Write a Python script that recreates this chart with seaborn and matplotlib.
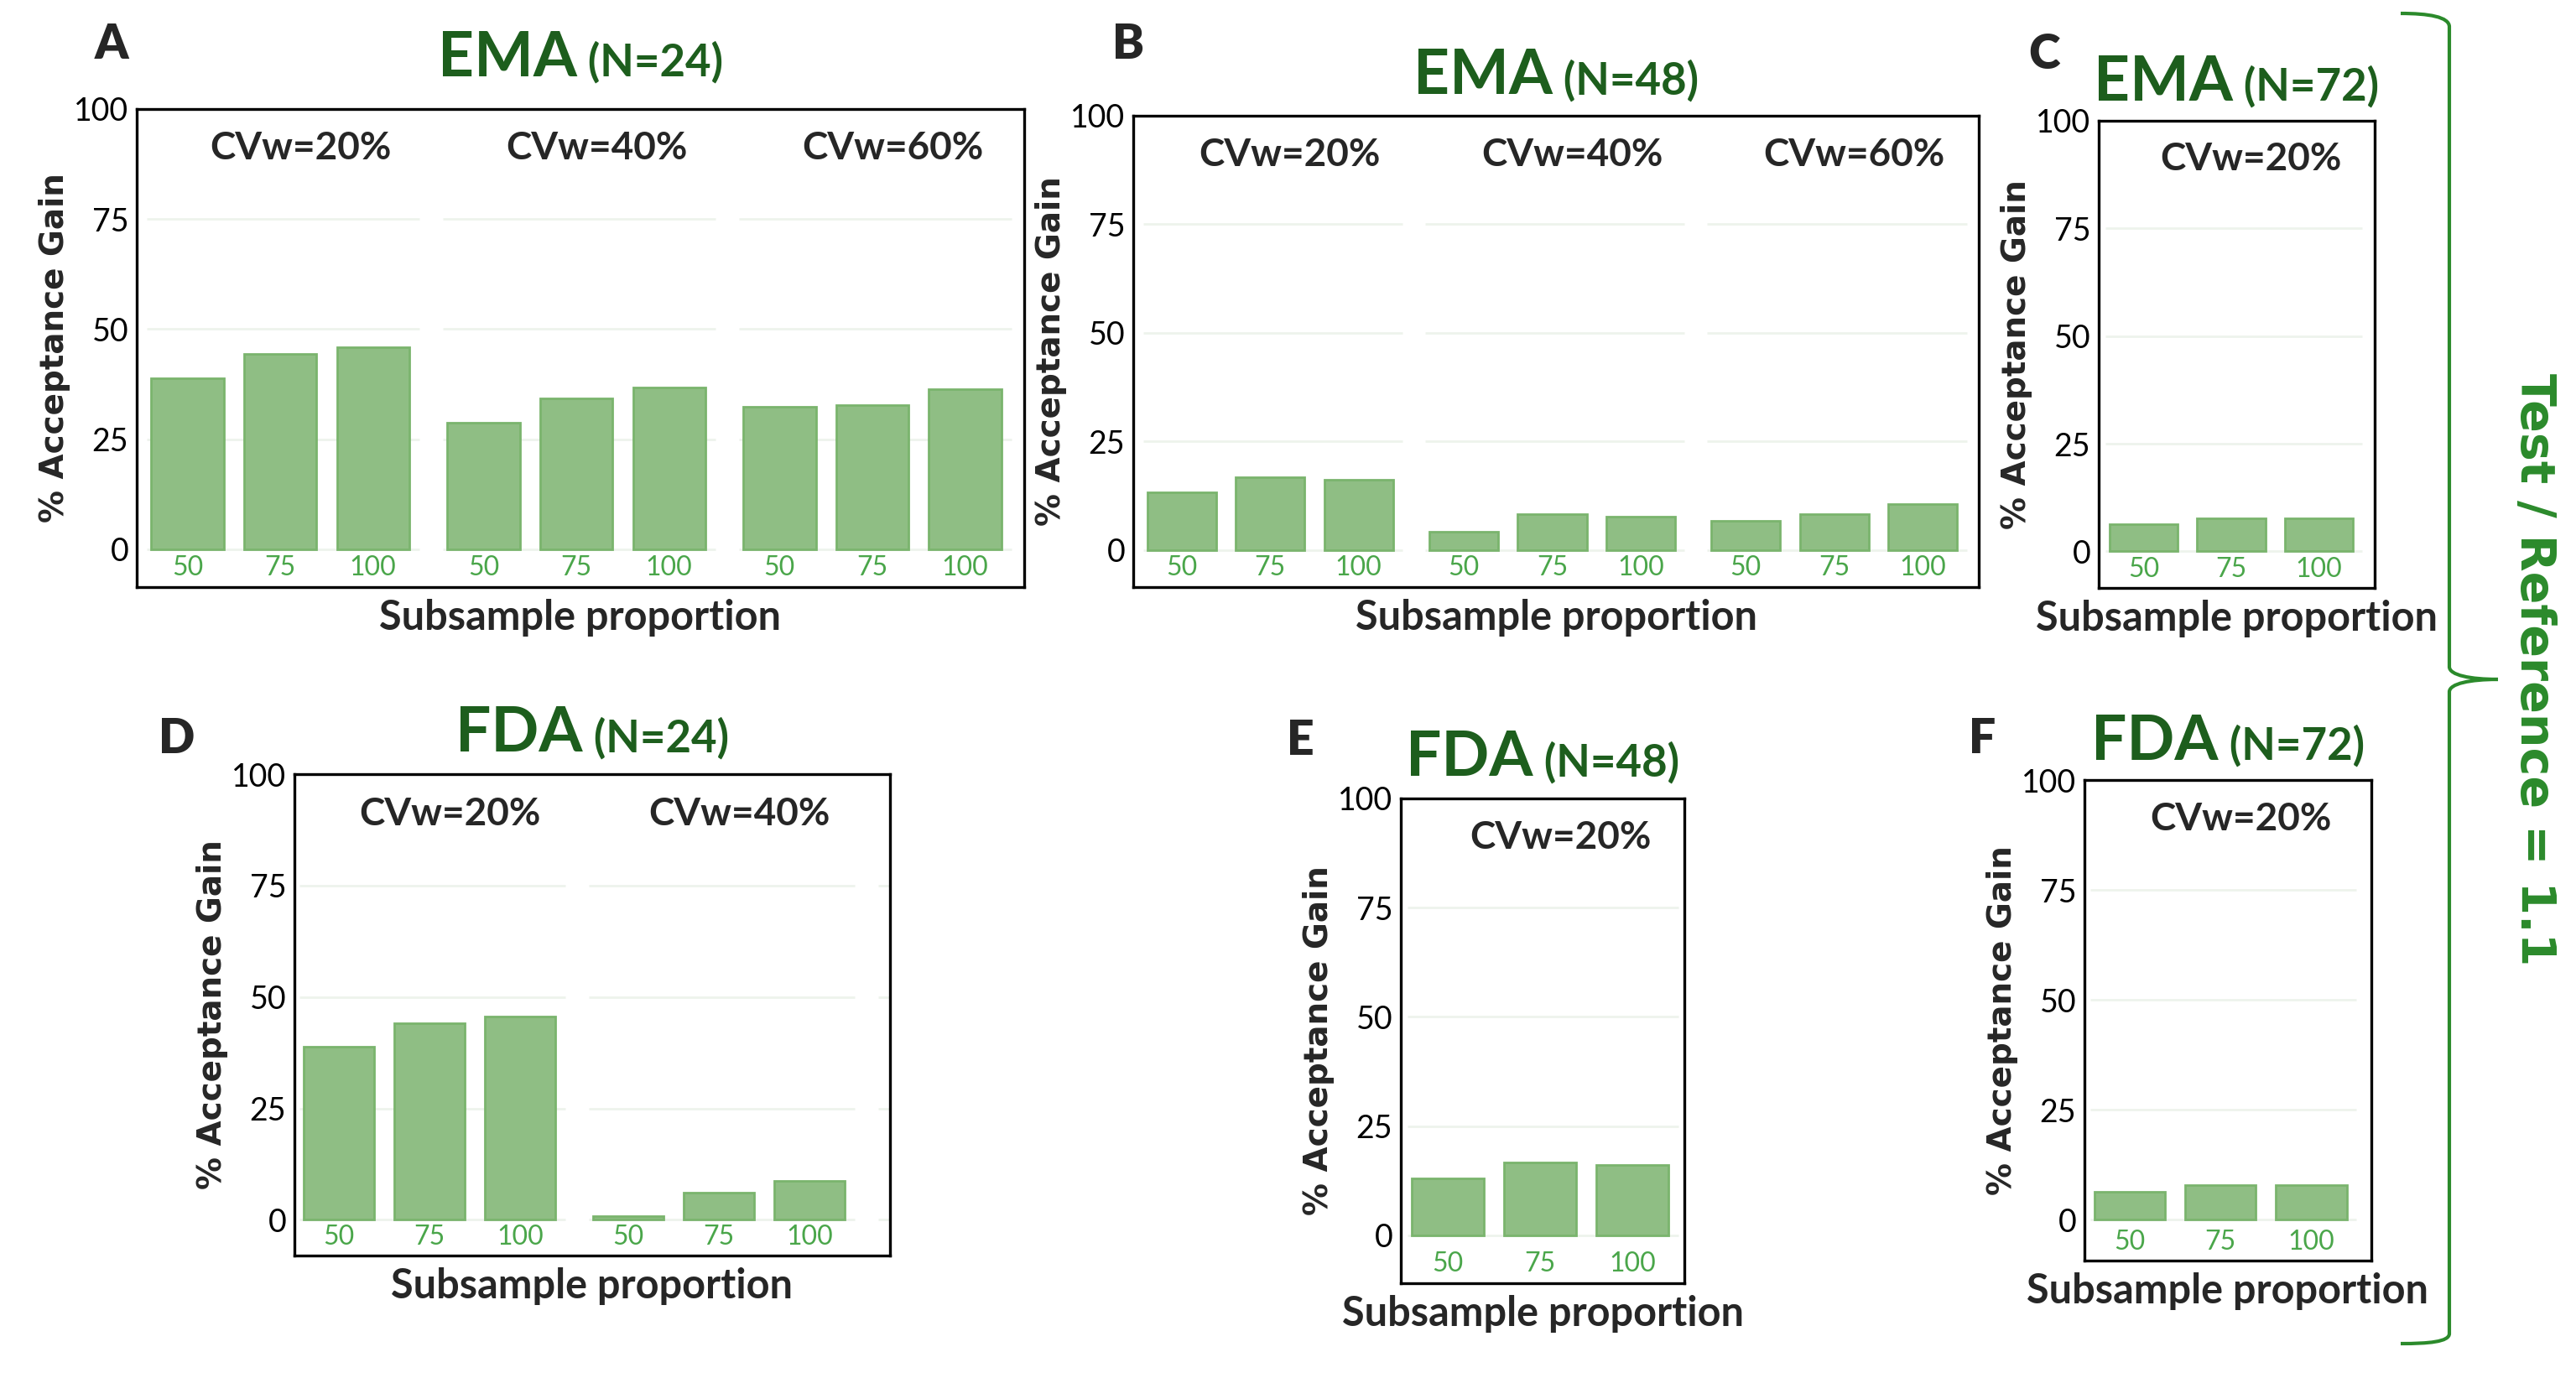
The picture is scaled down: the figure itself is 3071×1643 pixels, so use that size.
# Six bar panels: % acceptance gain by subsample proportion (EMA / FDA, N=24/48/72)

import seaborn as sns
import matplotlib.pyplot as plt
import pandas as pd
from matplotlib.offsetbox import TextArea, HPacker, AnnotationBbox
from matplotlib.path import Path
from matplotlib.patches import PathPatch

# Values
proportions = ['50', '75', '100']
cvw_levels = ['CVw=20%', 'CVw=40%', 'CVw=60%']

ema24_cv20 = [38.8, 44.3, 45.8]
ema24_cv40 = [28.7, 34.3, 36.7]
ema24_cv60 = [32.3, 32.7, 36.3]
ema48_cv20 = [13.3, 16.8, 16.3]
ema48_cv40 = [4.3, 8.2, 7.7]
ema48_cv60 = [6.8, 8.2, 10.7]
ema72_cv20 = [6.3, 7.7, 7.7]
fda24_cv20 = [38.8, 44.2, 45.7]
fda24_cv40 = [0.8, 6.2, 8.7]
fda48_cv20 = [13.1, 16.7, 16.1]
fda72_cv20 = [6.3, 7.8, 7.8]

W, H = 3071, 1643
BAR = '#8fbe84'
EDGE = '#7ab46d'
TICK_GREEN = '#4aa64a'
TITLE_GREEN = '#1d5e1d'
BRACE_GREEN = '#2b8a2b'
GRID = '#eef3ec'

sns.set_style('white')
plt.rcParams['font.family'] = ['Lato', 'DejaVu Sans']


def make_df(groups):
    rows = []
    for cvw, vals in groups:
        for p, v in zip(proportions, vals):
            rows.append({'cvw': cvw, 'prop': p, 'gain': v})
    return pd.DataFrame(rows)


# letter, agency, N, groups, box in px (left, top, right, bottom), xlim, ymin, title gap (pt), letter pos px
panels = [
    ('A', 'EMA', 24, [(cvw_levels[0], ema24_cv20), (cvw_levels[1], ema24_cv40), (cvw_levels[2], ema24_cv60)],
     (163, 130, 1221, 700), (-0.485, 2.513), -8.6, 19, (133, 53)),
    ('B', 'EMA', 48, [(cvw_levels[0], ema48_cv20), (cvw_levels[1], ema48_cv40), (cvw_levels[2], ema48_cv60)],
     (1351, 138, 2359, 700), (-0.486, 2.513), -8.5, 9, (1345, 53)),
    ('C', 'EMA', 72, [(cvw_levels[0], ema72_cv20)],
     (2502, 144, 2831, 701), (-0.475, 0.514), -8.5, 8, (2437, 65)),
    ('D', 'FDA', 24, [(cvw_levels[0], fda24_cv20), (cvw_levels[1], fda24_cv40)],
     (351, 923, 1061, 1497), (-0.466, 1.591), -8.0, 10, (211, 881)),
    ('E', 'FDA', 48, [(cvw_levels[0], fda48_cv20)],
     (1670, 952, 2008, 1530), (-0.472, 0.489), -11.0, 10, (1550, 883)),
    ('F', 'FDA', 72, [(cvw_levels[0], fda72_cv20)],
     (2485, 930, 2827, 1503), (-0.470, 0.521), -9.3, 8, (2363, 881)),
]

fig = plt.figure(figsize=(W / 100, H / 100), dpi=100)

for letter, agency, n, groups, box, xlim, ymin, tgap, lpos in panels:
    l, t, r, b = box
    ax = fig.add_axes([l / W, 1 - b / H, (r - l) / W, (b - t) / H])
    df = make_df(groups)
    sns.barplot(data=df, x='cvw', y='gain', hue='prop', hue_order=proportions,
                palette={p: BAR for p in proportions}, width=0.94, gap=0.22,
                saturation=1, edgecolor=EDGE, linewidth=2, errorbar=None,
                legend=False, ax=ax)

    # broken light grid, one segment per CVw group
    for g in range(3):
        ax.hlines([0, 25, 50, 75], g - 0.45, g + 0.47, color=GRID, lw=2, zorder=0)

    ax.set_xlim(xlim)
    ax.set_ylim(ymin, 100)

    centers = sorted(p.get_x() + p.get_width() / 2 for p in ax.patches)
    ax.set_xticks(centers, proportions * len(groups))
    ax.tick_params(axis='x', length=0, pad=-27, labelsize=23, labelcolor=TICK_GREEN)
    ax.set_yticks([0, 25, 50, 75, 100])
    ax.tick_params(axis='y', length=0, pad=7, labelsize=27, labelcolor='black')

    ax.set_ylabel('% Acceptance Gain', fontsize=28, fontweight='bold',
                  family=['DejaVu Sans'], labelpad=3)
    ax.set_xlabel('Subsample proportion', fontsize=35, fontweight='bold', labelpad=10)

    for s in ax.spines.values():
        s.set_visible(True)
        s.set_color('black')
        s.set_linewidth(2.4)

    for g, (cvw, _) in enumerate(groups):
        ax.text(g + 0.07, 91, cvw, ha='center', va='center', fontsize=33, fontweight='bold')

    t1 = TextArea(agency, textprops=dict(size=54, weight='bold', color=TITLE_GREEN))
    t2 = TextArea(f' (N={n})', textprops=dict(size=38, weight='bold', color=TITLE_GREEN))
    title = HPacker(children=[t1, t2], align='baseline', pad=0, sep=0)
    ab = AnnotationBbox(title, (0.5, 1), xycoords='axes fraction', xybox=(0, tgap),
                        boxcoords='offset points', box_alignment=(0.5, 0), frameon=False)
    ax.add_artist(ab)

    fig.text(lpos[0] / W, 1 - lpos[1] / H, letter, ha='center', va='center',
             fontsize=41, fontweight='heavy')


# curly brace on the right
def px(x, y):
    return (x / W, 1 - y / H)


verts = [px(2862, 16), px(2895, 16), px(2920, 20), px(2920, 32),
         px(2920, 795),
         px(2920, 805), px(2945, 810), px(2978, 810),
         px(2945, 810), px(2920, 815), px(2920, 825),
         px(2920, 1590),
         px(2920, 1600), px(2895, 1602), px(2862, 1602)]
codes = [Path.MOVETO, Path.CURVE4, Path.CURVE4, Path.CURVE4,
         Path.LINETO,
         Path.CURVE4, Path.CURVE4, Path.CURVE4,
         Path.CURVE4, Path.CURVE4, Path.CURVE4,
         Path.LINETO,
         Path.CURVE4, Path.CURVE4, Path.CURVE4]
brace = PathPatch(Path(verts, codes), transform=fig.transFigure, fill=False,
                  edgecolor=BRACE_GREEN, lw=3)
fig.add_artist(brace)

fig.text(3020 / W, 1 - 798 / H, 'Test / Reference = 1.1', rotation=270,
         ha='center', va='center', fontsize=41, fontweight='bold',
         color=BRACE_GREEN, family=['DejaVu Sans'])

fig.savefig('out.png', dpi=100)
